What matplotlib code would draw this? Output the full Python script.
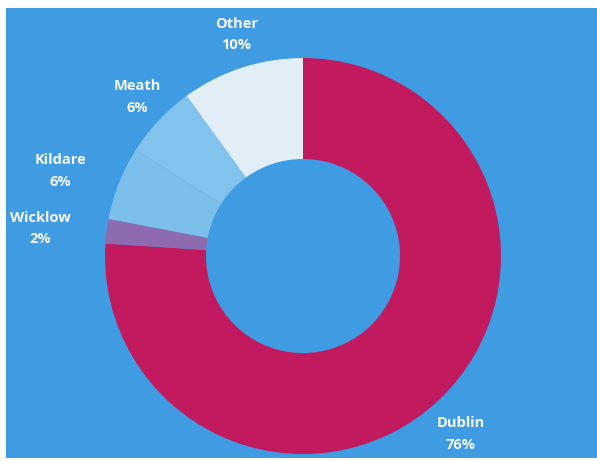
import numpy as np
import matplotlib
matplotlib.use("Agg")
import matplotlib.pyplot as plt

# Commuter share by county
counties = ["Dublin", "Wicklow", "Kildare", "Meath", "Other"]
shares = [76, 2, 6, 6, 10]
colors = ["#c21a5e", "#8e6aae", "#7dbfeb", "#82c3ed", "#e2eef6"]
# label placement: distance in outer-radius units, angle nudge in degrees
label_dist = [1.20, 1.335, 1.30, 1.16, 1.168]
label_nudge = [-1.7, 1.2, 2.3, -0.6, -1.3]

fig = plt.figure(figsize=(5.97, 4.61), dpi=100)
ax = fig.add_axes([6 / 597, 3 / 461, 591 / 597, 450 / 461])

wedges, _ = ax.pie(shares, colors=colors, startangle=90, counterclock=False,
                   radius=1.0, wedgeprops=dict(width=0.51, linewidth=0))
ax.set_frame_on(True)
ax.patch.set_facecolor("#3f9be2")

# labels around each wedge's middle angle
for w, name, val, d, nudge in zip(wedges, counties, shares, label_dist, label_nudge):
    ang = np.deg2rad((w.theta1 + w.theta2) / 2 + nudge)
    ax.text(d * np.cos(ang), d * np.sin(ang), f"{name}\n{val}%",
            ha="center", va="center", color="#f4f6fa", fontsize=10.5,
            fontweight="bold", family="Open Sans", linespacing=1.65)

ax.set_xlim(-1.5, 1.485)
ax.set_ylim(-1.02, 1.2525)
ax.set_aspect("auto")
ax.set_xticks([])
ax.set_yticks([])
for s in ax.spines.values():
    s.set_visible(False)

fig.savefig("out.png", dpi=100)
